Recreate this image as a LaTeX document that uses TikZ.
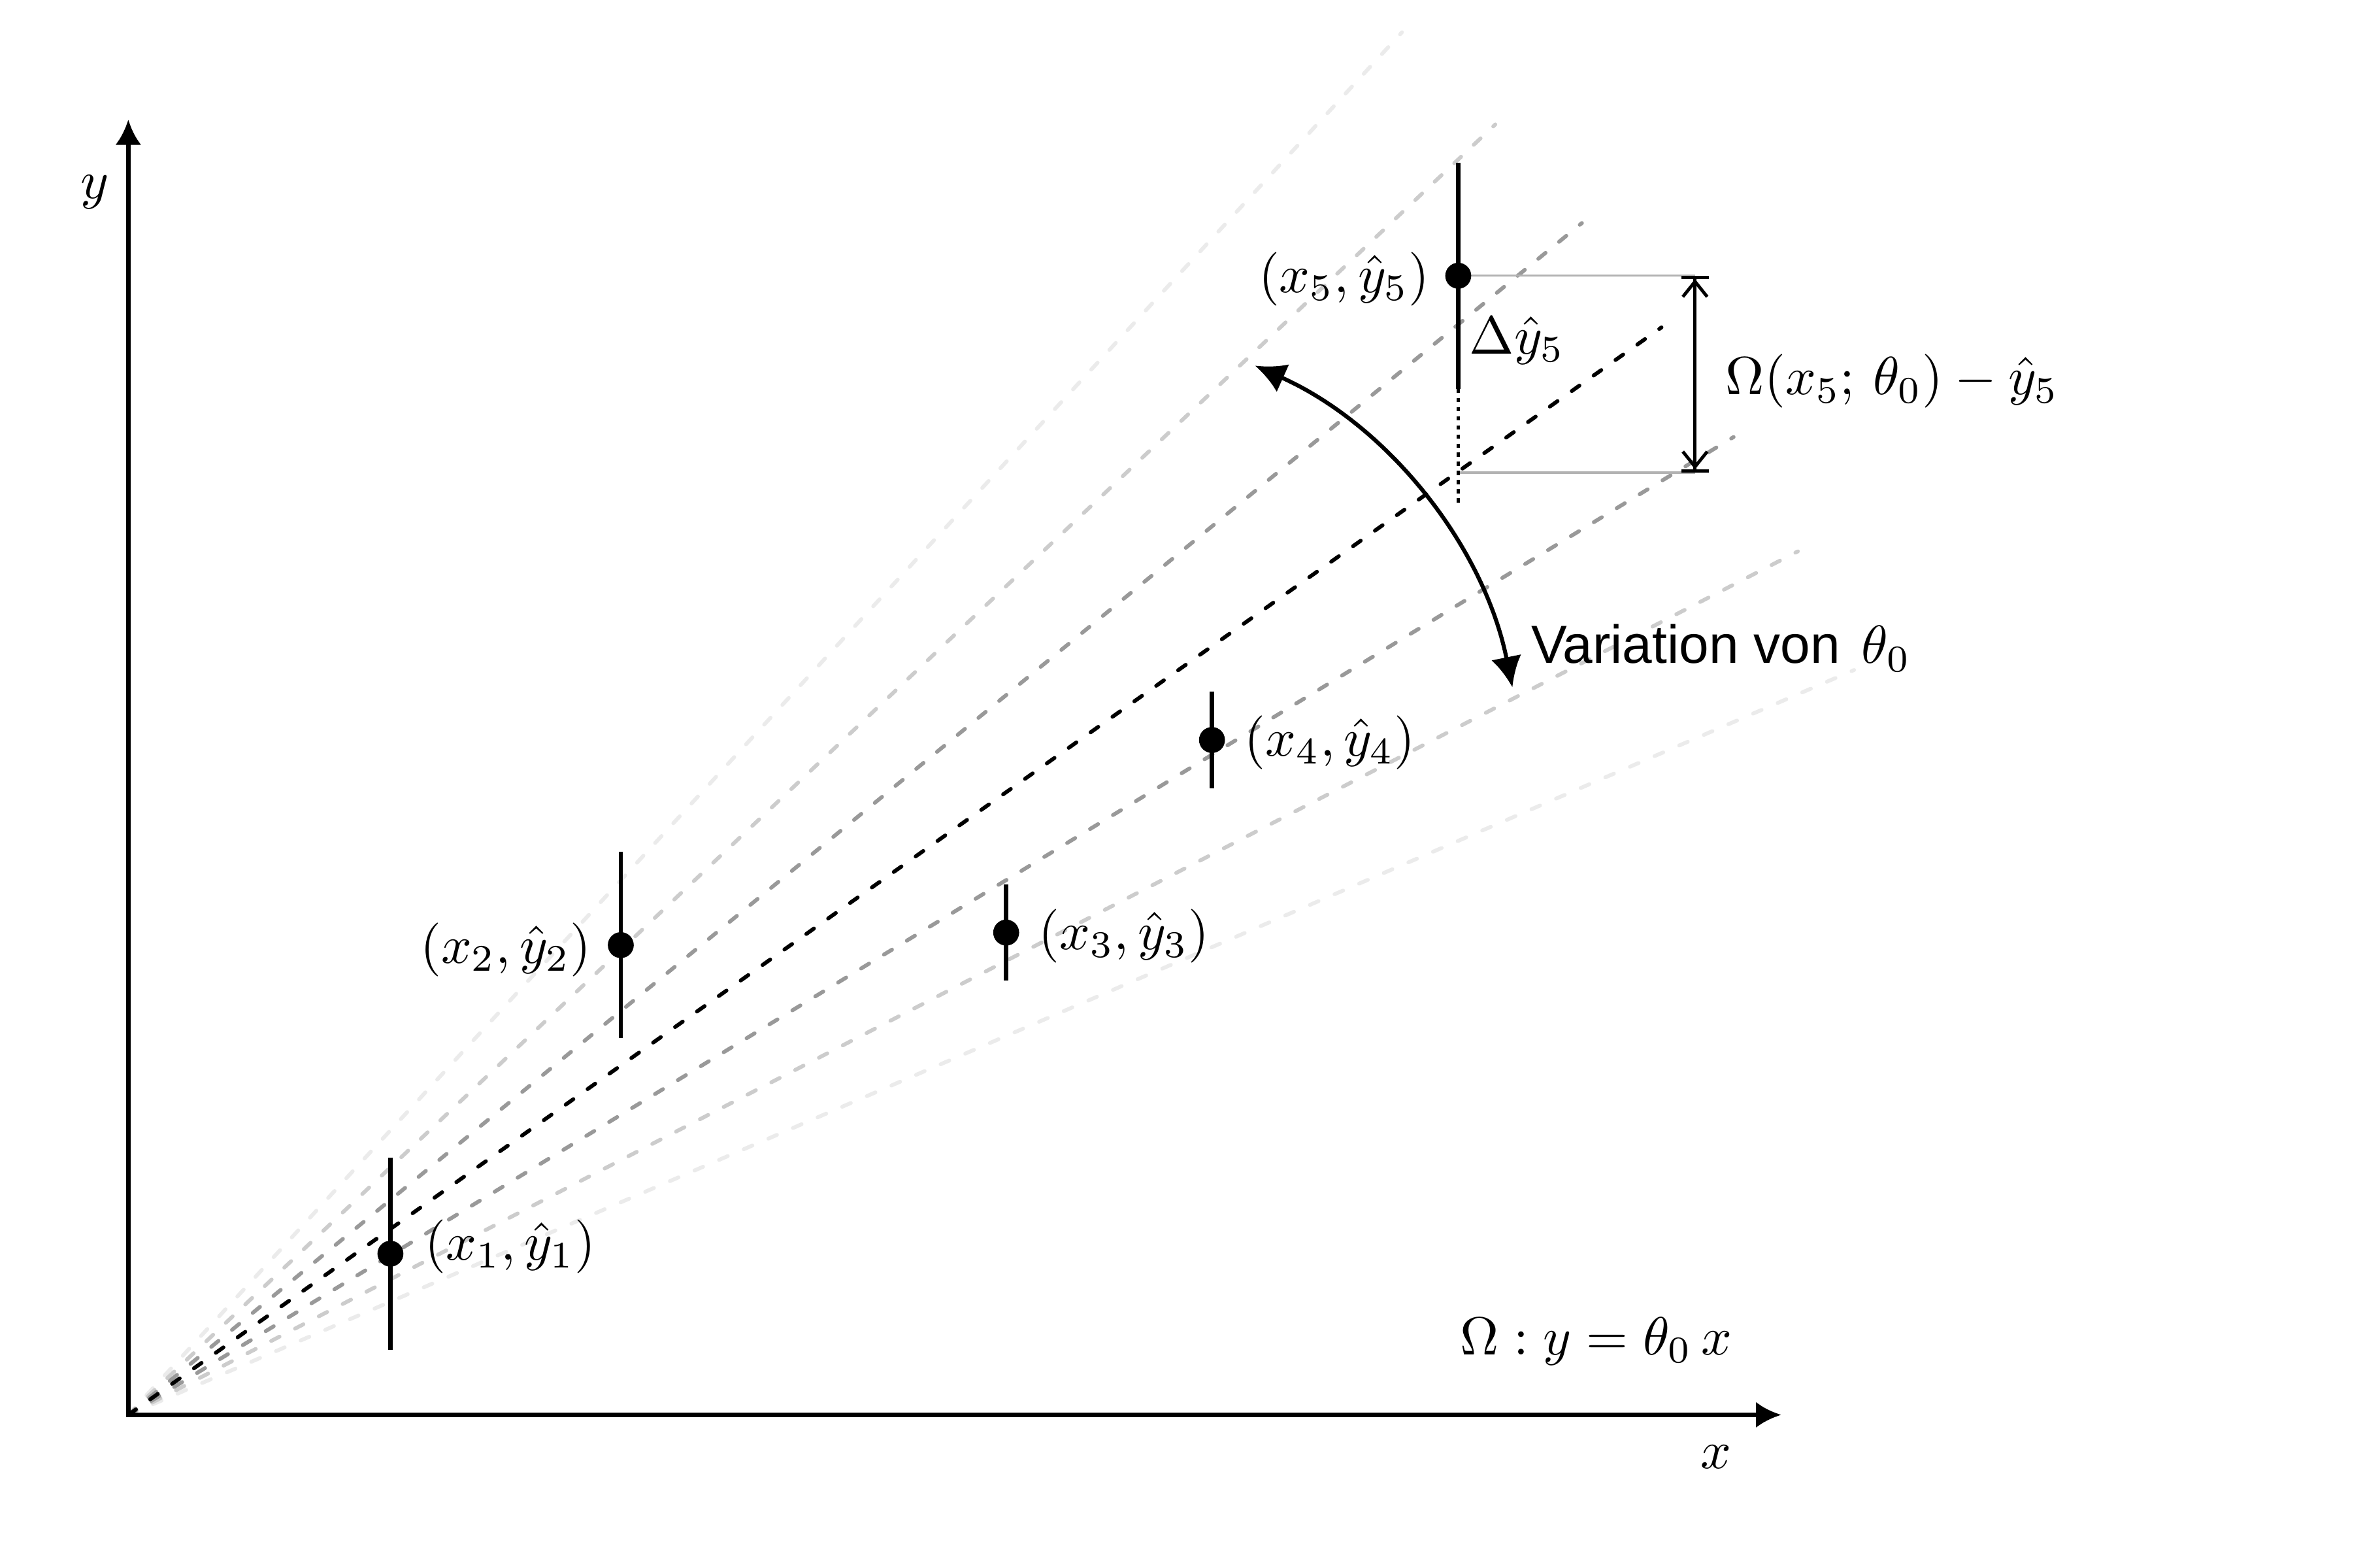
\documentclass[tikz,border=0pt]{standalone}
\usepackage{fontspec}
\newfontfamily\lsans{Liberation Sans}
\usetikzlibrary{arrows.meta}
\begin{document}
\begin{tikzpicture}[x=1cm,y=1cm,
  fan/.style={line width=0.72pt, line cap=round, dash pattern=on 1.75pt off 3.25pt},
  ax/.style={line width=0.8pt, {Latex[length=1.65mm,width=1.7mm]}-{Latex[length=1.65mm,width=1.7mm]}},
  ebar/.style={line width=0.8pt},
  dot/.style={circle, fill=black, inner sep=0pt, minimum size=1.7mm},
  lbl/.style={inner sep=0pt},
  guide/.style={line width=0.4pt, black!30},
  dimarr/.style={line width=0.6pt, {Bar[width=1.8mm]Straight Barb[length=1mm,width=1.6mm]}-{Straight Barb[length=1mm,width=1.6mm]Bar[width=1.8mm]}},
  curvarr/.style={line width=0.75pt, {Latex[length=2mm,width=2mm]}-{Latex[length=2mm,width=2mm]}},
]
\useasboundingbox (0,0) rectangle (15.6,10.117);
\coordinate (O) at (0.841,0.846);
\coordinate (yt) at (0.841,9.333);
\coordinate (xt) at (11.675,0.846);
% fan of model lines
\foreach \ang/\col in {47.34/black!8, 23.34/black!8, 43.34/black!20, 27.34/black!20, 39.34/black!40, 31.34/black!40, 35.34/black}
  \draw[fan, \col] (O) -- ++(\ang:12.32);
% axes
\draw[ax] (yt) -- (O) -- (xt);
\node[lbl, anchor=base] (ylab) at (0.621,8.818) {$y$};
\node[lbl, anchor=base] (xlab) at (11.248,0.494) {$x$};
% data points
\coordinate (c1) at (2.559,1.902);
\coordinate (c2) at (4.069,3.924);
\coordinate (c3) at (6.595,4.006);
\coordinate (c4) at (7.944,5.268);
\coordinate (c5) at (9.558,8.310);
\draw[ebar] (c1) ++(0,0.63) -- ++(0,-1.26);
\draw[ebar] (c2) ++(0,0.61) -- ++(0,-1.22);
\draw[ebar] (c3) ++(0,0.316) -- ++(0,-0.632);
\draw[ebar] (c4) ++(0,0.316) -- ++(0,-0.632);
% point 5 details
\coordinate (q5) at (9.558,7.02);
\coordinate (e5) at (9.558,7.569);
\coordinate (f5) at (9.558,6.804);
\coordinate (d5t) at (11.11,8.310);
\coordinate (d5b) at (11.11,7.02);
\draw[guide] (c5) -- (d5t);
\draw[guide] (q5) -- (d5b);
\draw[ebar] (c5) ++(0,0.74) -- (e5);
\draw[line width=0.55pt, dash pattern=on 0.8pt off 0.9pt] (e5) -- (f5);
\draw[dimarr] (d5t) -- (d5b);
\node[dot] (p1) at (c1) {};
\node[dot] (p2) at (c2) {};
\node[dot] (p3) at (c3) {};
\node[dot] (p4) at (c4) {};
\node[dot] (p5) at (c5) {};
% labels
\node[lbl, anchor=base west] (l1) at (2.779,1.862) {$(x_1,\hat{y}_1)$};
\node[lbl, anchor=base east] (l2) at (3.880,3.807) {$(x_2,\hat{y}_2)$};
\node[lbl, anchor=base west] (l3) at (6.800,3.896) {$(x_3,\hat{y}_3)$};
\node[lbl, anchor=base west] (l4) at (8.150,5.163) {$(x_4,\hat{y}_4)$};
\node[lbl, anchor=base east] (l5) at (9.375,8.202) {$(x_5,\hat{y}_5)$};
\node[lbl, anchor=base west] (dl) at (9.625,7.798) {$\Delta\hat{y}_5$};
\node[lbl, anchor=base west] (om) at (11.305,7.530) {$\Omega(x_5;\,\theta_0)-\hat{y}_5$};
\node[lbl, anchor=base west] (model) at (9.562,1.239) {$\Omega : y=\theta_0\,x$};
% variation arrow
\coordinate (vt) at (8.226,7.721);
\coordinate (vb) at (9.913,5.613);
\draw[curvarr] (vt) to[bend left=27.2, looseness=0.9] (vb);
\node[lbl, anchor=base west] (var) at (10.029,5.770) {\lsans Variation von\hspace{1.2pt} $\theta_0$};
\end{tikzpicture}
\end{document}
